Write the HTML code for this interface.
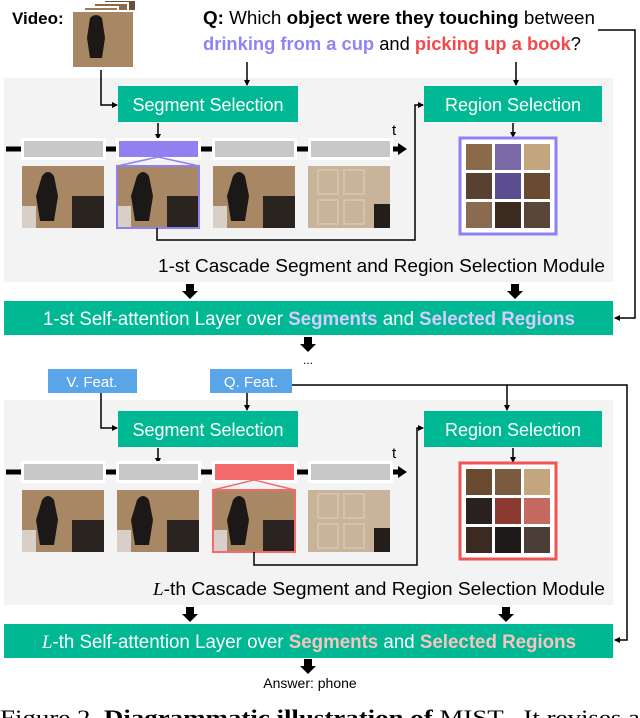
<!DOCTYPE html>
<html><head><meta charset="utf-8"><style>
html,body{margin:0;padding:0;background:#fff;}
svg{display:block;}
text{font-family:"Liberation Sans",sans-serif;}
.serif{font-family:"Liberation Serif",serif;}
</style></head><body>
<svg width="640" height="718" viewBox="0 0 640 718" xmlns="http://www.w3.org/2000/svg">
<defs>
<marker id="a" markerWidth="6" markerHeight="6" refX="5" refY="3" orient="auto" markerUnits="userSpaceOnUse"><path d="M0,0 L6,3 L0,6 z" fill="#000"/></marker>
<g id="photo">
<rect width="82" height="62" fill="#a88864"/>
<rect x="50" y="30" width="32" height="32" fill="#2a2320"/>
<path d="M20 10 q6 -8 12 0 l4 20 l-4 25 h-14 l-4 -25 z" fill="#1c1818"/>
<rect x="0" y="40" width="14" height="22" fill="#d8d0c8"/>
</g>
<g id="door">
<rect width="82" height="62" fill="#c8b49a"/>
<rect x="10" y="4" width="20" height="24" fill="none" stroke="#e0d2bd"/>
<rect x="36" y="4" width="20" height="24" fill="none" stroke="#e0d2bd"/>
<rect x="10" y="34" width="20" height="24" fill="none" stroke="#e0d2bd"/>
<rect x="36" y="34" width="20" height="24" fill="none" stroke="#e0d2bd"/>
<rect x="66" y="38" width="16" height="24" fill="#241e1a"/>
</g>
</defs>

<text x="12" y="24" font-size="17" font-weight="bold">Video:</text>
<rect x="104" y="0" width="32" height="56" fill="#6b5038" stroke="#fff" stroke-width="2"/>
<rect x="94" y="3" width="34" height="58" fill="#8a6a4a" stroke="#fff" stroke-width="2"/>
<rect x="84" y="7" width="34" height="58" fill="#9a7a58" stroke="#fff" stroke-width="2"/>
<rect x="72" y="11" width="62" height="57" fill="#a88864" stroke="#fff" stroke-width="2"/>
<path d="M90 18 q6 -6 12 0 l3 20 l-3 20 h-12 l-3 -20 z" fill="#1c1818"/>

<text x="203" y="24" font-size="18" textLength="392" lengthAdjust="spacingAndGlyphs"><tspan font-weight="bold">Q:</tspan> Which <tspan font-weight="bold">object were they touching</tspan> between</text>
<text x="203" y="50" font-size="18" font-weight="bold" textLength="378" lengthAdjust="spacingAndGlyphs"><tspan fill="#8f84f4">drinking from a cup</tspan> <tspan fill="#000" font-weight="normal">and</tspan> <tspan fill="#f24a4a">picking up a book</tspan><tspan font-weight="normal" fill="#000">?</tspan></text>

<rect x="4" y="78" width="609" height="204" fill="#f3f3f3"/>
<line x1="247" y1="62" x2="247" y2="85" stroke="#000" stroke-width="1.5" marker-end="url(#a)"/>
<line x1="516" y1="62" x2="516" y2="85" stroke="#000" stroke-width="1.5" marker-end="url(#a)"/>
<polyline points="101,70 101,105 117,105" fill="none" stroke="#000" stroke-width="1.5" marker-end="url(#a)"/>
<rect x="118" y="86" width="180" height="36" fill="#00b894"/>
<text x="208" y="111" font-size="18" fill="#fff" text-anchor="middle">Segment Selection</text>
<rect x="424" y="86" width="178" height="36" fill="#00b894"/>
<text x="513" y="111" font-size="18" fill="#fff" text-anchor="middle">Region Selection</text>
<line x1="158" y1="123" x2="158" y2="139" stroke="#000" stroke-width="1.5" marker-end="url(#a)"/>
<line x1="513" y1="123" x2="513" y2="137" stroke="#000" stroke-width="1.5" marker-end="url(#a)"/>
<line x1="6" y1="149" x2="400" y2="149" stroke="#000" stroke-width="5"/>
<path d="M398 143 L407 149 L398 155 z" fill="#000"/>
<text x="392" y="135" font-size="15">t</text>
<rect x="21" y="138" width="85" height="22" fill="#fff"/><rect x="24" y="141" width="79" height="16" fill="#c8c8c8"/>
<rect x="116" y="138" width="85" height="22" fill="#fff"/><rect x="119" y="141" width="79" height="16" fill="#9180f0"/>
<rect x="212" y="138" width="85" height="22" fill="#fff"/><rect x="215" y="141" width="79" height="16" fill="#c8c8c8"/>
<rect x="308" y="138" width="85" height="22" fill="#fff"/><rect x="311" y="141" width="79" height="16" fill="#c8c8c8"/>
<use href="#photo" x="22" y="166"/>
<use href="#photo" x="117" y="166"/>
<rect x="117" y="166" width="82" height="62" fill="none" stroke="#9180f0" stroke-width="2"/>
<polyline points="117,166 158,157 199,166" fill="none" stroke="#9180f0" stroke-width="1.5"/>
<use href="#photo" x="213" y="166"/>
<use href="#door" x="308" y="166"/>
<polyline points="157,228 157,240 415,240 415,105 423,105" fill="none" stroke="#000" stroke-width="1.5" marker-end="url(#a)"/>
<rect x="460" y="138" width="96" height="96" fill="#fff" stroke="#9180f0" stroke-width="3"/>
<g>
<rect x="466" y="144" width="26" height="26" fill="#8a6a4a"/><rect x="495" y="144" width="26" height="26" fill="#7a6aa8"/><rect x="524" y="144" width="26" height="26" fill="#c4a67e"/>
<rect x="466" y="173" width="26" height="26" fill="#5a4030"/><rect x="495" y="173" width="26" height="26" fill="#5a4e90"/><rect x="524" y="173" width="26" height="26" fill="#6a4a30"/>
<rect x="466" y="202" width="26" height="26" fill="#8a6a50"/><rect x="495" y="202" width="26" height="26" fill="#3a2a20"/><rect x="524" y="202" width="26" height="26" fill="#5a4638"/>
</g>
<text x="158" y="272" font-size="18" textLength="447" lengthAdjust="spacingAndGlyphs">1-st Cascade Segment and Region Selection Module</text>
<polyline points="598,30 635,30 635,318 615,318" fill="none" stroke="#000" stroke-width="1.5" marker-end="url(#a)"/>
<g fill="#000">
<path d="M186 284 h8 v7 h4 l-8 8 l-8 -8 h4 z"/>
<path d="M511 284 h8 v7 h4 l-8 8 l-8 -8 h4 z"/>
<path d="M304 337 h8 v7 h4 l-8 8 l-8 -8 h4 z"/>
</g>
<rect x="4" y="301" width="609" height="34" fill="#00b894"/>
<text x="43" y="325" font-size="19" fill="#fff" textLength="532" lengthAdjust="spacingAndGlyphs">1-st Self-attention Layer over <tspan font-weight="bold" fill="#d6ccff">Segments</tspan> and <tspan font-weight="bold" fill="#d6ccff">Selected Regions</tspan></text>
<text x="308" y="364" font-size="12" text-anchor="middle">...</text>

<rect x="48" y="369" width="89" height="24" fill="#5aa5e8"/>
<text x="92" y="387" font-size="15" fill="#fff" text-anchor="middle">V. Feat.</text>
<rect x="210" y="369" width="82" height="24" fill="#5aa5e8"/>
<text x="251" y="387" font-size="15" fill="#fff" text-anchor="middle">Q. Feat.</text>
<rect x="4" y="400" width="609" height="205" fill="#f3f3f3"/>
<line x1="247" y1="393" x2="247" y2="410" stroke="#000" stroke-width="1.5" marker-end="url(#a)"/>
<polyline points="292,385 627,385 627,640 615,640" fill="none" stroke="#000" stroke-width="1.5" marker-end="url(#a)"/>
<line x1="507" y1="385" x2="507" y2="410" stroke="#000" stroke-width="1.5" marker-end="url(#a)"/>
<polyline points="101,393 101,428 117,428" fill="none" stroke="#000" stroke-width="1.5" marker-end="url(#a)"/>
<rect x="118" y="411" width="180" height="36" fill="#00b894"/>
<text x="208" y="436" font-size="18" fill="#fff" text-anchor="middle">Segment Selection</text>
<rect x="424" y="411" width="178" height="36" fill="#00b894"/>
<text x="513" y="436" font-size="18" fill="#fff" text-anchor="middle">Region Selection</text>
<line x1="158" y1="448" x2="158" y2="463" stroke="#000" stroke-width="1.5" marker-end="url(#a)"/>
<line x1="513" y1="448" x2="513" y2="462" stroke="#000" stroke-width="1.5" marker-end="url(#a)"/>
<line x1="6" y1="472" x2="400" y2="472" stroke="#000" stroke-width="5"/>
<path d="M398 466 L407 472 L398 478 z" fill="#000"/>
<text x="392" y="458" font-size="15">t</text>
<rect x="21" y="461" width="85" height="22" fill="#fff"/><rect x="24" y="464" width="79" height="16" fill="#c8c8c8"/>
<rect x="116" y="461" width="85" height="22" fill="#fff"/><rect x="119" y="464" width="79" height="16" fill="#c8c8c8"/>
<rect x="212" y="461" width="85" height="22" fill="#fff"/><rect x="215" y="464" width="79" height="16" fill="#f46a6a"/>
<rect x="308" y="461" width="85" height="22" fill="#fff"/><rect x="311" y="464" width="79" height="16" fill="#c8c8c8"/>
<use href="#photo" x="22" y="490"/>
<use href="#photo" x="117" y="490"/>
<use href="#photo" x="213" y="490"/>
<rect x="213" y="490" width="82" height="62" fill="none" stroke="#f46a6a" stroke-width="2"/>
<polyline points="213,490 254,480 295,490" fill="none" stroke="#f46a6a" stroke-width="1.5"/>
<use href="#door" x="308" y="490"/>
<polyline points="254,552 254,565 417,565 417,428 423,428" fill="none" stroke="#000" stroke-width="1.5" marker-end="url(#a)"/>
<rect x="460" y="463" width="96" height="96" fill="#fff" stroke="#f05555" stroke-width="3"/>
<g>
<rect x="466" y="469" width="26" height="26" fill="#6a4a30"/><rect x="495" y="469" width="26" height="26" fill="#7a5a40"/><rect x="524" y="469" width="26" height="26" fill="#c4a67e"/>
<rect x="466" y="498" width="26" height="26" fill="#2a2020"/><rect x="495" y="498" width="26" height="26" fill="#8a3a30"/><rect x="524" y="498" width="26" height="26" fill="#c46a60"/>
<rect x="466" y="527" width="26" height="26" fill="#3a2a22"/><rect x="495" y="527" width="26" height="26" fill="#1e1a1a"/><rect x="524" y="527" width="26" height="26" fill="#4a3e36"/>
</g>
<text x="153" y="595" font-size="18" textLength="452" lengthAdjust="spacingAndGlyphs"><tspan class="serif" font-style="italic">L</tspan>-th Cascade Segment and Region Selection Module</text>
<g fill="#000">
<path d="M186 607 h8 v7 h4 l-8 8 l-8 -8 h4 z"/>
<path d="M502 607 h8 v7 h4 l-8 8 l-8 -8 h4 z"/>
<path d="M304 659 h8 v7 h4 l-8 8 l-8 -8 h4 z"/>
</g>
<rect x="4" y="624" width="609" height="34" fill="#00b894"/>
<text x="42" y="648" font-size="19" fill="#fff" textLength="534" lengthAdjust="spacingAndGlyphs"><tspan class="serif" font-style="italic">L</tspan>-th Self-attention Layer over <tspan font-weight="bold" fill="#f8c4c0">Segments</tspan> and <tspan font-weight="bold" fill="#f8c4c0">Selected Regions</tspan></text>
<text x="310" y="688" font-size="14" text-anchor="middle">Answer: phone</text>
<text x="0" y="725" font-size="22" class="serif" textLength="640" lengthAdjust="spacingAndGlyphs">Figure 2.  <tspan font-weight="bold">Diagrammatic illustration of</tspan> MIST . It revises a</text>
</svg>
</body></html>
